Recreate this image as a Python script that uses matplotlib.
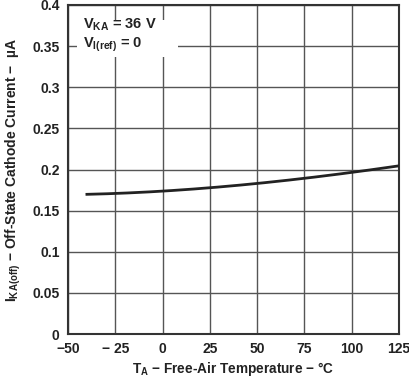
import matplotlib
matplotlib.use("Agg")
import matplotlib.pyplot as plt
from matplotlib.patches import Rectangle
import numpy as np

plt.rcParams['font.family'] = ['Liberation Sans', 'DejaVu Sans']
plt.rcParams['font.weight'] = 'bold'

temps = [-40, -25, 0, 25, 50, 75, 100, 125]
current = [0.170, 0.1705, 0.174, 0.1775, 0.1835, 0.189, 0.1965, 0.2045]
xticks = [-50, -25, 0, 25, 50, 75, 100, 125]
xtick_labels = ['\u221250', '\u2212 25', '0', '25', '50', '75', '100', '125']
yticks = [0, 0.05, 0.1, 0.15, 0.2, 0.25, 0.3, 0.35, 0.4]
ytick_labels = ['0', '0.05', '0.1', '0.15', '0.2', '0.25', '0.3', '0.35', '0.4']

fig = plt.figure(figsize=(4.10, 3.78), dpi=100)
ax = fig.add_axes([68/410, 1-334/378, (399-68)/410, (334-5)/378])

xs = np.linspace(temps[0], temps[-1], 200)
coef = np.polyfit(temps, current, 3)
ax.plot(xs, np.polyval(coef, xs), color='#222222', lw=2.0, zorder=3)

ax.set_xlim(-50, 125)
ax.set_ylim(0, 0.4)
ax.set_xticks(xticks)
ax.set_xticklabels(xtick_labels)
ax.set_yticks(yticks)
ax.set_yticklabels(ytick_labels)
ax.tick_params(length=0, labelsize=10, pad=6)
for lbl in ax.get_xticklabels() + ax.get_yticklabels():
    lbl.set_fontweight('bold')
    lbl.set_color('#222222')

ax.grid(True, color='#555555', lw=1.0)
ax.set_axisbelow(True)
for s in ax.spines.values():
    s.set_color('#333333')
    s.set_linewidth(1.5)

ax.set_xlabel(r'$\mathregular{T_A}$ ' + '\u2212 Free-Air Temperature \u2212 \u00b0C',
              fontsize=9.8, fontweight='bold', color='#222222', labelpad=3)
ax.set_ylabel(r'$\mathregular{I_{KA(off)}}$ ' + '\u2212 Off-State Cathode Current \u2212  \u00b5A',
              fontsize=10, fontweight='bold', color='#222222', labelpad=7)

# white legend box
ax.add_patch(Rectangle((9/331, 1-52/329), 101/331, 37/329, transform=ax.transAxes,
                       facecolor='white', edgecolor='none', zorder=2))
ax.text(15/331, 1-20/329, r'$\mathregular{V_{KA}}$ = 36 V', transform=ax.transAxes,
        fontsize=10.5, fontweight='bold', color='#222222', va='center', ha='left', zorder=4)
ax.text(15/331, 1-40/329, r'$\mathregular{V_{I(ref)}}$ = 0', transform=ax.transAxes,
        fontsize=10.5, fontweight='bold', color='#222222', va='center', ha='left', zorder=4)

fig.savefig('out.png', dpi=100)
